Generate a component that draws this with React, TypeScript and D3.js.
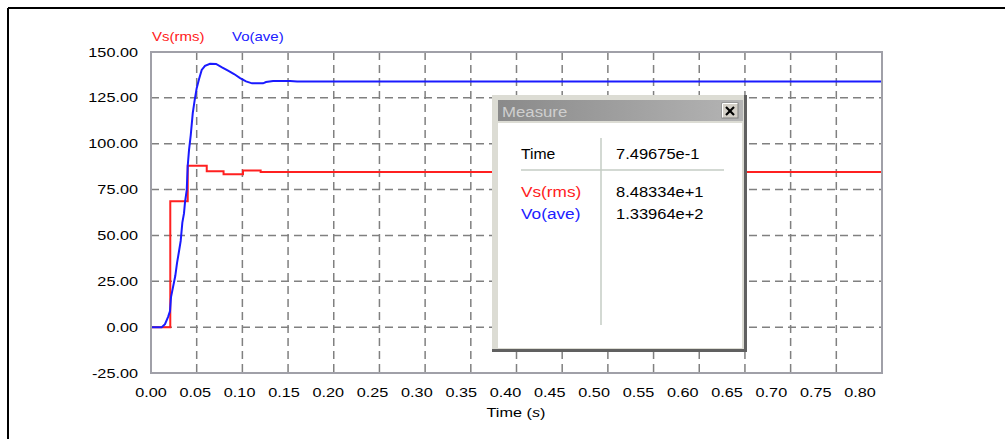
import React from "react";
import * as d3 from "d3";

const vsT = [0, 0.0211, 0.0402, 0.061, 0.0794, 0.1007, 0.12, 0.8];
const vsV = [0, 68.7, 88, 85, 83.4, 85.4, 84.6, 84.6];

const voT = [0, 0.0117, 0.0153, 0.0186, 0.0208, 0.0219, 0.0241, 0.0266, 0.0285, 0.0307, 0.0325, 0.0343, 0.0361, 0.0372, 0.0391, 0.0402, 0.0416, 0.0435, 0.0457, 0.0478, 0.05, 0.0526, 0.0555, 0.0591, 0.0646, 0.0712, 0.0777, 0.0843, 0.0909, 0.0975, 0.104, 0.1106, 0.1226, 0.1259, 0.1336, 0.1522, 0.1599, 0.8];
const voV = [0, 0, 1.6, 5.5, 8.7, 16.4, 21.8, 28, 35, 41.5, 47, 57, 62, 68, 74.7, 88, 96.5, 104.7, 116.7, 123.8, 130.3, 135.3, 140.2, 142.4, 143.6, 143.5, 141.6, 139.8, 138, 135.8, 134, 132.9, 132.9, 133.6, 134.2, 134.2, 133.9, 133.9];

const xTicks = [0, 0.05, 0.1, 0.15, 0.2, 0.25, 0.3, 0.35, 0.4, 0.45, 0.5, 0.55, 0.6, 0.65, 0.7, 0.75, 0.8];
const yTicks = [150, 125, 100, 75, 50, 25, 0, -25];

const legend = [
  { name: "Vs(rms)", color: "#ff2020" },
  { name: "Vo(ave)", color: "#2020ff" },
];
const measureRows = [
  { name: "Vs(rms)", value: "8.48334e+1", color: "#ff2020" },
  { name: "Vo(ave)", value: "1.33964e+2", color: "#2020ff" },
];

const FONT = "'Liberation Sans', Arial, sans-serif";
const fmt = (v: number) => v.toFixed(2);

function T({ x, y, sx = 1.3, anchor = "start", size = 12.5, fill = "#000", children }: any) {
  return (
    <g transform={`translate(${x},${y}) scale(${sx},1)`}>
      <text x={0} y={0} textAnchor={anchor} fontSize={size} fontFamily={FONT} fill={fill}>
        {children}
      </text>
    </g>
  );
}

export default function App() {
  const L = 151, R = 882, TOP = 52, B = 373;
  const x = d3.scaleLinear().domain([0, 0.8]).range([L, R]);
  const xl = d3.scaleLinear().domain([0, 0.8]).range([L, 860]);
  const y = d3.scaleLinear().domain([-25, 150]).range([B, TOP]);

  const vs = vsT.map((t, i) => [t, vsV[i]] as [number, number]);
  const vo = voT.map((t, i) => [t, voV[i]] as [number, number]);
  const stepLine = d3.line<[number, number]>().x(d => x(d[0])).y(d => y(d[1])).curve(d3.curveStepAfter);
  const line = d3.line<[number, number]>().x(d => x(d[0])).y(d => y(d[1]));

  const bx = 492, by = 95, bw = 255, bh = 257;

  return (
    <svg width={1005} height={439} style={{ position: "absolute", left: 0, top: 0, background: "#fff" }}>
      <defs>
        <linearGradient id="tb" x1="0" x2="1" y1="0" y2="0">
          <stop offset="0" stopColor="#8a8a8a" />
          <stop offset="1" stopColor="#b4b4b4" />
        </linearGradient>
      </defs>
      <rect x={0} y={0} width={1005} height={439} fill="#fff" />
      <line x1={8} y1={8} x2={1005} y2={8} stroke="#000" strokeWidth={2} />
      <line x1={8} y1={8} x2={8} y2={439} stroke="#000" strokeWidth={2} />

      {yTicks.filter(v => v !== 150 && v !== -25).map(v => (
        <line key={"h" + v} x1={L} x2={R} y1={y(v)} y2={y(v)} stroke="#808080" strokeWidth={1.5} strokeDasharray="8,5" />
      ))}
      {xTicks.filter(v => v !== 0 && v !== 0.8).map(v => (
        <line key={"v" + v} x1={x(v)} x2={x(v)} y1={TOP} y2={B} stroke="#808080" strokeWidth={1.5} strokeDasharray="8,5" />
      ))}

      <path d={stepLine(vs) || ""} fill="none" stroke="#ff2020" strokeWidth={2} />
      <path d={line(vo) || ""} fill="none" stroke="#1a1aff" strokeWidth={2} />

      <rect x={L} y={TOP} width={R - L} height={B - TOP} fill="none" stroke="#a0a0a8" strokeWidth={2} />

      {yTicks.map(v => (
        <T key={"yl" + v} x={138} y={y(v) + 4.5} anchor="end">{fmt(v)}</T>
      ))}
      {xTicks.map(v => (
        <T key={"xl" + v} x={xl(v)} y={397} anchor="middle">{fmt(v)}</T>
      ))}
      <g transform="translate(516,417) scale(1.3,1)">
        <text textAnchor="middle" fontSize={12.5} fontFamily={FONT}>
          Time (<tspan fontStyle="italic">s</tspan>)
        </text>
      </g>

      {legend.map((s, i) => (
        <T key={s.name} x={152 + i * 80} y={41} sx={1.2} fill={s.color}>{s.name}</T>
      ))}

      <rect x={bx} y={by} width={bw} height={bh} fill="#dcdcd4" />
      <line x1={bx + bw - 1.5} x2={bx + bw - 1.5} y1={by} y2={by + bh} stroke="#606060" strokeWidth={3} />
      <line x1={bx} x2={bx + bw} y1={by + bh - 1.5} y2={by + bh - 1.5} stroke="#606060" strokeWidth={3} />
      <rect x={bx + 6} y={by + 5} width={bw - 10} height={21} fill="url(#tb)" />
      <rect x={bx + 6} y={by + 28} width={bw - 11} height={bh - 32} fill="#fff" />
      <T x={bx + 10} y={by + 22} sx={1.12} size={15} fill="#cfcfcf">Measure</T>
      <rect x={722} y={103} width={16} height={15} fill="#d4d0c8" stroke="#808080" strokeWidth={1} />
      <line x1={722.5} y1={103.5} x2={737.5} y2={103.5} stroke="#fff" />
      <line x1={722.5} y1={103.5} x2={722.5} y2={117.5} stroke="#fff" />
      <line x1={726} y1={107} x2={734} y2={115} stroke="#000" strokeWidth={2.2} />
      <line x1={734} y1={107} x2={726} y2={115} stroke="#000" strokeWidth={2.2} />

      <line x1={601} x2={601} y1={138} y2={325} stroke="#c4ccc4" strokeWidth={1.5} />
      <line x1={521} x2={724} y1={170} y2={170} stroke="#c4ccc4" strokeWidth={1.5} />
      <T x={521} y={159} sx={1.05} size={15}>Time</T>
      <T x={616} y={159} sx={1.1} size={15}>7.49675e-1</T>
      {measureRows.map((r, i) => (
        <g key={r.name}>
          <T x={521} y={197 + i * 21.5} sx={1.15} size={15} fill={r.color}>{r.name}</T>
          <T x={616} y={197 + i * 21.5} sx={1.1} size={15}>{r.value}</T>
        </g>
      ))}
    </svg>
  );
}
